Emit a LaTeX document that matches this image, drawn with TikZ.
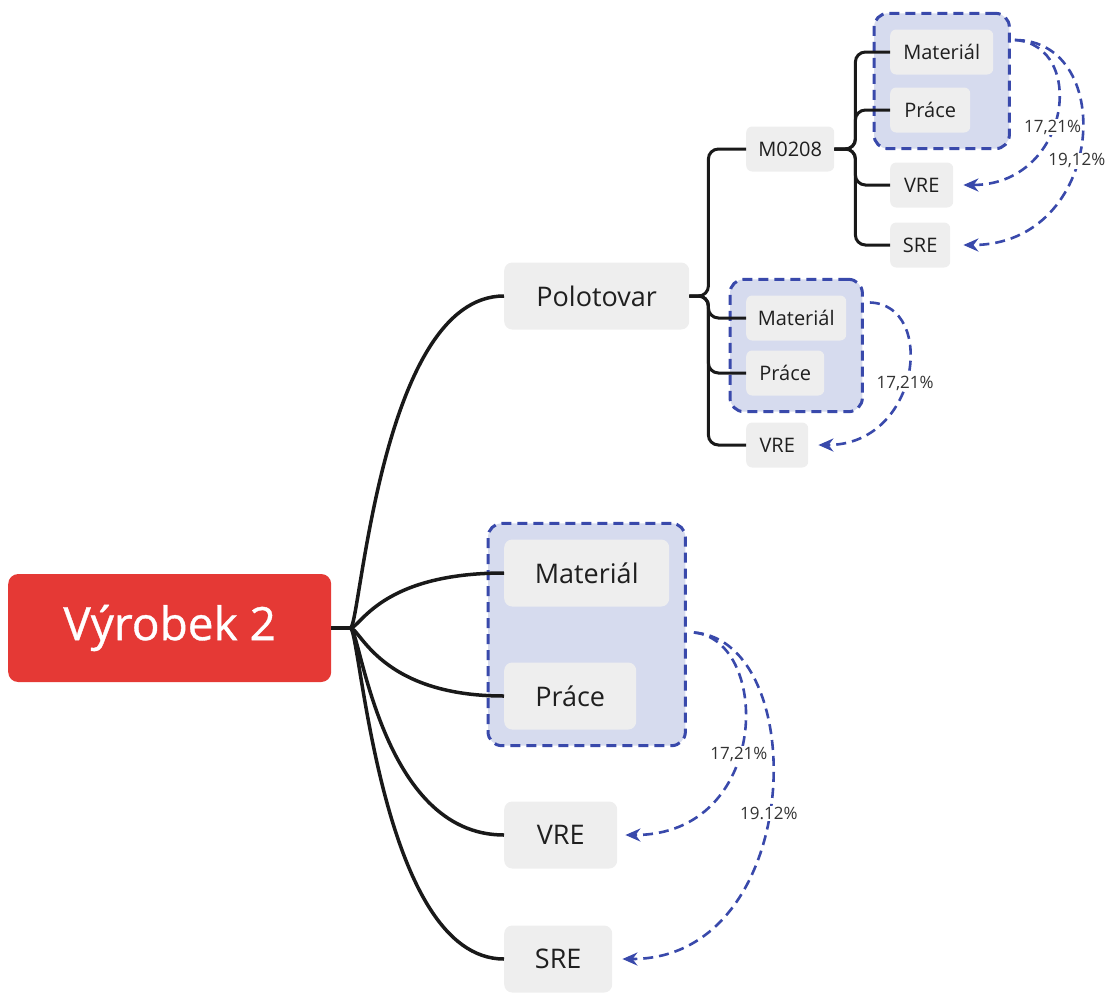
\documentclass[tikz,border=0pt]{standalone}
\usepackage{fontspec}
\setmainfont{Open Sans}
\newfontfamily\rootfont[FakeBold=0.8]{Open Sans}
\usetikzlibrary{arrows.meta,fit,backgrounds}
\definecolor{rootred}{RGB}{229,57,53}
\definecolor{boxgray}{RGB}{238,238,238}
\definecolor{grpblue}{RGB}{57,73,171}
\definecolor{grpfill}{RGB}{214,219,238}
\tikzset{
  rootnode/.style={fill=rootred, text=white, rounded corners=10, anchor=west,
    minimum width=323, minimum height=108, font=\rootfont\fontsize{46}{50}\selectfont},
  topic/.style={fill=boxgray, text=black!88, rounded corners=8, anchor=west,
    minimum height=67, font=\fontsize{27}{30}\selectfont},
  subtopic/.style={fill=boxgray, text=black!88, rounded corners=6, anchor=west,
    minimum height=45, font=\fontsize{20}{23}\selectfont},
  branch/.style={line width=3.5, black!90},
  elbow/.style={line width=3, black!90, rounded corners=10},
  group/.style={draw=grpblue, fill=grpfill, dash pattern=on 10 off 6,
    line width=3, rounded corners=14, inner sep=16},
  relation/.style={draw=grpblue, line width=2.6, dash pattern=on 10 off 6,
    -{Stealth[length=15,width=13]}},
  pct/.style={font=\fontsize{17}{19}\selectfont, text=black!80, fill=white, inner sep=1},
}
\begin{document}
\begin{tikzpicture}[x=1pt, y=-1pt]
    \useasboundingbox (0,0) rectangle (1111,994);

    % Central topic
    \node[rootnode] (root) at (8,628) {Výrobek 2};

    % First level
    \node[topic, minimum width=185] (polo) at (504,296) {Polotovar};
    \node[topic, minimum width=165] (mat1) at (504,573) {Materiál};
    \node[topic, minimum width=132] (pra1) at (504,696) {Práce};
    \node[topic, minimum width=113] (vre1) at (504,835) {VRE};
    \node[topic, minimum width=108] (sre1) at (504,959) {SRE};

    % Second level (Polotovar)
    \node[subtopic, minimum width=88] (m0208) at (746,149) {M0208};
    \node[subtopic, minimum width=100] (mat2) at (746,318) {Materiál};
    \node[subtopic, minimum width=78] (pra2) at (746,373) {Práce};
    \node[subtopic, minimum width=62] (vre2) at (746,445) {VRE};

    % Third level (M0208)
    \node[subtopic, minimum width=103] (mat3) at (890,52) {Materiál};
    \node[subtopic, minimum width=80] (pra3) at (890,110) {Práce};
    \node[subtopic, minimum width=63] (vre3) at (890,185) {VRE};
    \node[subtopic, minimum width=60] (sre3) at (890,245) {SRE};

    % Dashed groups
    \begin{scope}[on background layer]
        \node[group, fit=(mat1)(pra1)] (g1) {};
        \node[group, fit=(mat2)(pra2)] (g2) {};
        \node[group, fit=(mat3)(pra3)] (g3) {};
    \end{scope}

    % Branches from the central topic
    \draw[branch] (root.east) -- ++(19,0) coordinate (rj);
    \foreach \c in {polo,mat1,pra1,vre1,sre1} {
        \draw[branch] (rj) .. controls +(10,0) and +(-124,0) .. (\c.west);
    }

    % Elbow branches
    \foreach \c in {m0208,mat2,pra2,vre2} {
        \draw[elbow] (polo.east) -- ++(19,0) |- (\c.west);
    }
    \foreach \c in {mat3,pra3,vre3,sre3} {
        \draw[elbow] (m0208.east) -- ++(21,0) |- (\c.west);
    }

    % Relations
    \coordinate (r1) at ([shift={(7,-2)}]g1.east);
    \coordinate (r2) at ([shift={(6,-43)}]g2.east);
    \coordinate (r3) at ([shift={(4,-41)}]g3.east);
    \draw[relation] (r3) .. controls +(73,5) and +(107,0) .. ([xshift=10]vre3.east)
        node[pct, pos=0.56] {17,21\%};
    \draw[relation] (r3) .. controls +(103,0) and +(142,0) .. ([xshift=13]sre3.east)
        node[pct, pos=0.56] {19,12\%};
    \draw[relation] (r2) .. controls +(67,2) and +(102,0) .. ([xshift=10]vre2.east)
        node[pct, pos=0.54] {17,21\%};
    \draw[relation] (r1) .. controls +(78,8) and +(145,0) .. ([xshift=8]vre1.east)
        node[pct, pos=0.56] {17,21\%};
    \draw[relation] (r1) .. controls +(118,8) and +(183,0) .. ([xshift=10]sre1.east)
        node[pct, pos=0.53] {19.12\%};
\end{tikzpicture}
\end{document}
